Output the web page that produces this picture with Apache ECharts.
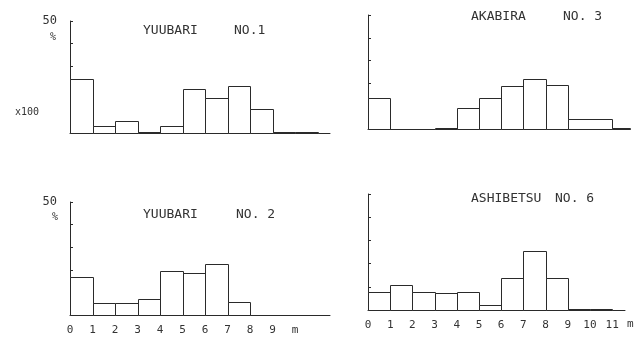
<!DOCTYPE html>
<html>
<head>
<meta charset="utf-8">
<script src="https://cdn.jsdelivr.net/npm/echarts@6/dist/echarts.min.js"></script>
<style>html,body{margin:0;padding:0;background:#fff}#c{width:639px;height:340px}</style>
</head>
<body>
<div id="c"></div>
<script>
// Bin edges [from, to] in metres and frequency (%) for each site
const binsYuubari1 = [[0,1],[1,2],[2,3],[3,4],[4,5],[5,6],[6,7],[7,8],[8,9],[9,10],[10,11]];
const valsYuubari1 = [24, 3.3, 5.4, 0.3, 3.3, 19.6, 15.8, 21, 10.7, 0.5, 0.5];

const binsAkabira3 = [[0,1],[1,2],[2,3],[3,4],[4,5],[5,6],[6,7],[7,8],[8,9],[9,11],[11,11.8]];
const valsAkabira3 = [13.5, 0, 0, 0.4, 9.3, 13.7, 18.8, 21.8, 19.1, 4.6, 0.4];

const binsYuubari2 = [[0,1],[1,2],[2,3],[3,4],[4,5],[5,6],[6,7],[7,8]];
const valsYuubari2 = [16.9, 5.1, 5.4, 7.2, 19.3, 18.4, 22.4, 5.6];

const binsAshibetsu6 = [[0,1],[1,2],[2,3],[3,4],[4,5],[5,6],[6,7],[7,8],[8,9],[9,10],[10,11]];
const valsAshibetsu6 = [7.6, 10.6, 7.6, 7.4, 7.7, 2.0, 13.6, 25.4, 14.0, 0.3, 0.3];

const yTicks = [0, 10, 20, 30, 40, 50];
const xLabelsLeft = ['0','1','2','3','4','5','6','7','8','9','m'];
const xLabelsRight = ['0','1','2','3','4','5','6','7','8','9','10','11'];

const INK = '#2a2a2a';
const FONT = 'DejaVu Sans Mono';

function toData(bins, vals) {
  return bins.map((b, i) => [b[0], b[1], vals[i]]);
}

function renderItem(params, api) {
  const x0 = api.value(0), x1 = api.value(1), y = api.value(2);
  const p0 = api.coord([x0, y]);
  const p1 = api.coord([x1, 0]);
  const left = Math.round(p0[0]) + 0.5, right = Math.round(p1[0]) + 0.5;
  const top = Math.round(p0[1]) + 0.5, bottom = Math.round(p1[1]) + 0.5;
  return {
    type: 'rect',
    shape: { x: left, y: top, width: right - left, height: bottom - top },
    style: { fill: '#fff', stroke: INK, lineWidth: 1 }
  };
}

const grids = [
  { left: 70, top: 21, width: 260, height: 112 },
  { left: 368, top: 15, width: 262, height: 114 },
  { left: 70, top: 202, width: 260, height: 113 },
  { left: 368, top: 194, width: 257, height: 116 }
];
const xMax = [11.55, 11.8, 11.55, 11.58];

function xAxis(i) {
  const bottom = i >= 2;
  let fmt;
  if (i === 2) fmt = v => (v < xLabelsLeft.length ? xLabelsLeft[v] : '');
  else if (i === 3) fmt = v => (v < xLabelsRight.length ? xLabelsRight[v] : '');
  return {
    type: 'value', gridIndex: i, min: 0, max: xMax[i], interval: 1,
    axisLine: { show: true, lineStyle: { color: INK, width: 1 } },
    axisTick: { show: false },
    splitLine: { show: false },
    axisLabel: bottom ? {
      show: true, formatter: fmt, margin: 10, fontSize: 11, color: '#333', fontFamily: FONT,
      showMaxLabel: true
    } : { show: false },
    name: i === 3 ? 'm' : '',
    nameLocation: 'end', nameGap: 2,
    nameTextStyle: { fontSize: 11, color: '#333', fontFamily: FONT, verticalAlign: 'top', padding: [9, 0, 0, 0] }
  };
}

function yAxis(i) {
  const leftPanel = (i === 0 || i === 2);
  return {
    type: 'value', gridIndex: i, min: yTicks[0], max: yTicks[yTicks.length - 1], interval: 10,
    axisLine: { show: true, lineStyle: { color: INK, width: 1 } },
    axisTick: { show: true, inside: true, length: 3, lineStyle: { color: INK } },
    splitLine: { show: false },
    axisLabel: leftPanel ? {
      show: true, margin: 13, fontSize: 12, color: '#333', fontFamily: FONT,
      formatter: v => (v === 50 ? '50' : '')
    } : { show: false }
  };
}

const allBins = [binsYuubari1, binsAkabira3, binsYuubari2, binsAshibetsu6];
const allVals = [valsYuubari1, valsAkabira3, valsYuubari2, valsAshibetsu6];

const tStyle = { fontSize: 13, fontWeight: 'normal', color: '#333', fontFamily: FONT };
const sStyle = { fontSize: 10, fontWeight: 'normal', color: '#333', fontFamily: FONT };
const title = [
  { text: 'YUUBARI', left: 138, top: 19, textStyle: tStyle },
  { text: 'NO.1', left: 229, top: 19, textStyle: tStyle },
  { text: 'AKABIRA', left: 466, top: 5, textStyle: tStyle },
  { text: 'NO. 3', left: 558, top: 5, textStyle: tStyle },
  { text: 'YUUBARI', left: 138, top: 203, textStyle: tStyle },
  { text: 'NO. 2', left: 231, top: 203, textStyle: tStyle },
  { text: 'ASHIBETSU', left: 466, top: 187, textStyle: tStyle },
  { text: 'NO. 6', left: 550, top: 187, textStyle: tStyle },
  { text: '%', left: 45, top: 27, textStyle: sStyle },
  { text: '%', left: 47, top: 207, textStyle: sStyle },
  { text: 'x100', left: 10, top: 102, textStyle: sStyle }
];

const option = {
  backgroundColor: '#fff',
  animation: false,
  title: title,
  grid: grids,
  xAxis: [0, 1, 2, 3].map(xAxis),
  yAxis: [0, 1, 2, 3].map(yAxis),
  series: [0, 1, 2, 3].map(i => ({
    type: 'custom', xAxisIndex: i, yAxisIndex: i,
    renderItem: renderItem,
    encode: { x: [0, 1], y: 2 },
    data: toData(allBins[i], allVals[i])
  }))
};

const chart = echarts.init(document.getElementById('c'), null, { renderer: 'canvas' });
chart.setOption(option);
</script>
</body>
</html>
